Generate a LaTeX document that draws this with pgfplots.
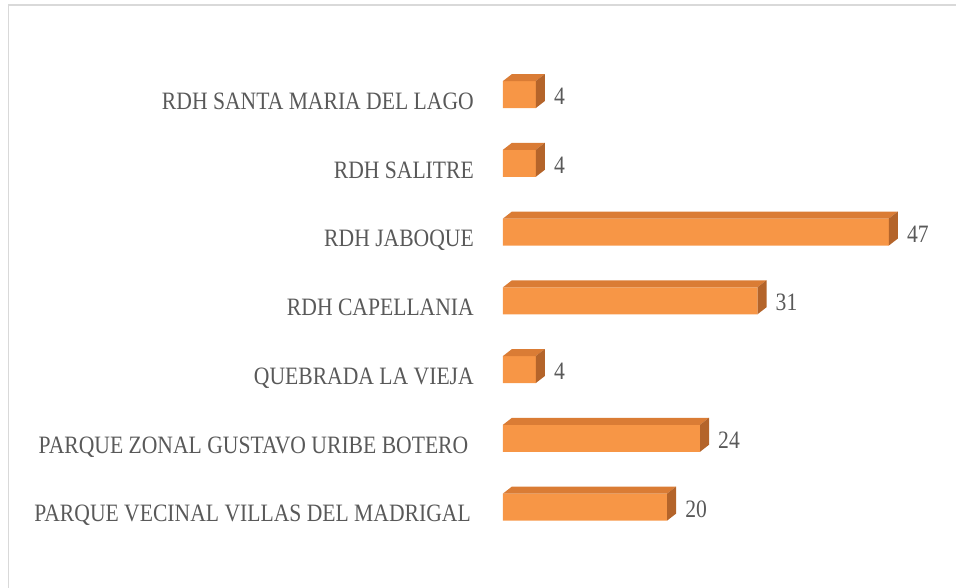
\documentclass[border=0pt]{standalone}
\usepackage{fontspec}
\setmainfont{Liberation Serif}[FakeStretch=0.865]
\usepackage{pgfplots}
\pgfplotsset{compat=1.18}
\definecolor{frontcol}{HTML}{F79646}
\definecolor{topcol}{HTML}{DA7C35}
\definecolor{sidecol}{HTML}{B4642A}
\definecolor{txt}{HTML}{595959}
\definecolor{bordercol}{HTML}{D9D9D9}
\def\barval{0}
\pgfdeclareplotmark{bar3d}{%
  \pgfmathsetmacro\La{-\barval*8.21}%
  \pgfmathsetmacro\Lb{9-\barval*8.21}%
  \pgfsetfillcolor{topcol}%
  \pgfpathmoveto{\pgfqpoint{\La pt}{13.5pt}}%
  \pgfpathlineto{\pgfqpoint{0pt}{13.5pt}}%
  \pgfpathlineto{\pgfqpoint{9pt}{20.5pt}}%
  \pgfpathlineto{\pgfqpoint{\Lb pt}{20.5pt}}%
  \pgfpathclose
  \pgfusepathqfill
  \pgfsetfillcolor{sidecol}%
  \pgfpathmoveto{\pgfqpoint{0pt}{-13.5pt}}%
  \pgfpathlineto{\pgfqpoint{9pt}{-6.5pt}}%
  \pgfpathlineto{\pgfqpoint{9pt}{20.5pt}}%
  \pgfpathlineto{\pgfqpoint{0pt}{13.5pt}}%
  \pgfpathclose
  \pgfusepathqfill
}
\begin{document}
\begin{tikzpicture}
\path[use as bounding box] (0,0) rectangle (956pt,588pt);
\draw[bordercol, line width=1.5pt] (8.3pt,-5pt) -- (8.3pt,583pt) -- (962pt,583pt);
\begin{axis}[
  at={(503pt,46.6pt)}, anchor=south west, scale only axis,
  width=451.55pt, height=481.25pt,
  xmin=0, xmax=55, ymin=-0.5, ymax=6.5,
  clip=false,
  axis line style={draw=none},
  xtick=\empty,
  ytick={0,1,2,3,4,5,6},
  yticklabels={PARQUE VECINAL VILLAS DEL MADRIGAL\kern3pt,
    PARQUE ZONAL GUSTAVO URIBE BOTERO\kern5.5pt,
    QUEBRADA LA VIEJA,
    RDH CAPELLANIA,
    RDH JABOQUE,
    RDH SALITRE,
    RDH SANTA MARIA DEL LAGO},
  major tick length=0pt,
  tick style={draw=none},
  yticklabel style={font=\fontsize{25}{29}\selectfont, text=txt, anchor=base east, inner sep=0pt, xshift=-29pt, yshift=-14.8pt},
  /pgf/number format/assume math mode=true,
]
\addplot[xbar, bar width=27pt, fill=frontcol, draw=none,
  nodes near coords,
  every node near coord/.append style={font=\fontsize{25}{29}\selectfont, text=txt, anchor=west, inner sep=0pt, xshift=18pt, yshift=-2pt}]
  coordinates {(20,0) (24,1) (4,2) (31,3) (47,4) (4,5) (4,6)};
\addplot[scatter, only marks, mark=bar3d,
  visualization depends on={rawx \as \barval},
  scatter/use mapped color={draw=none, fill=topcol}]
  coordinates {(20,0) (24,1) (4,2) (31,3) (47,4) (4,5) (4,6)};
\end{axis}
\end{tikzpicture}
\end{document}
